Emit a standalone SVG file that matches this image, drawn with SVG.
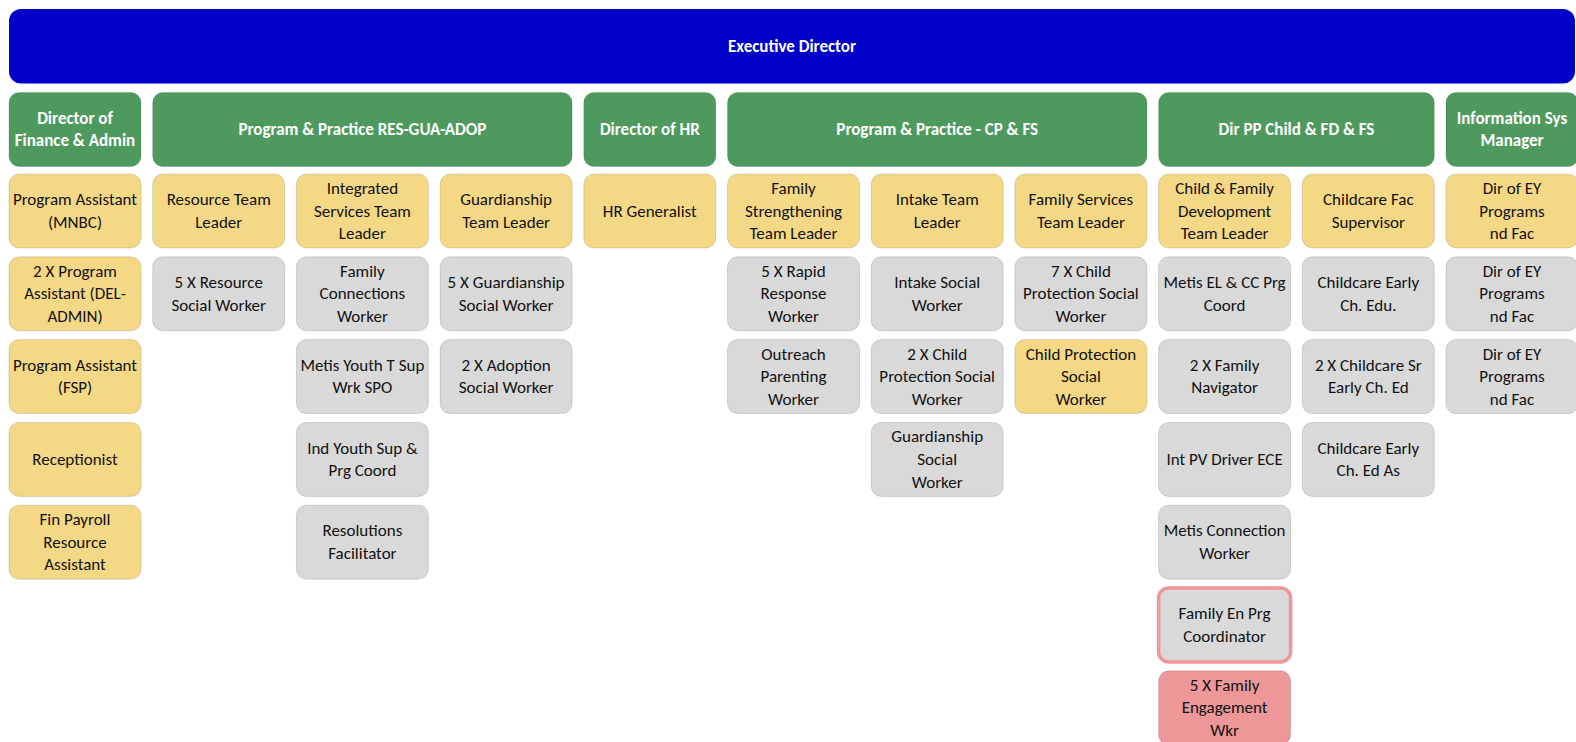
<svg xmlns="http://www.w3.org/2000/svg" width="1576" height="742" viewBox="0 0 1576 742">
<style>
.b{stroke:#000;stroke-opacity:0.13;stroke-width:1}
.exec{fill:#0000C8}
.hd{fill:#4E9A5E}
.y{fill:#F5D886}
.g{fill:#D9D9D9}
.p{fill:#EE9799}
.pb{fill:#D9D9D9;stroke:#EE9799;stroke-width:3.5}
text{font-family:Carlito,"Liberation Sans",sans-serif;font-size:17px;text-anchor:middle;fill:#111}
.w{fill:#fff;font-weight:bold}
</style>
<rect width="1576" height="742" fill="#fff"/>
<g id="exec-director"><rect class="exec" x="9" y="9" width="1566" height="74.5" rx="12"/><text class="w" x="792" y="52">Executive Director</text></g>
<g id="dir-finance"><rect class="hd b" x="9" y="92.5" width="132" height="74" rx="10"/><text class="w" x="75" y="124">Director of</text><text class="w" x="75" y="146">Finance &amp; Admin</text></g>
<g id="pp-res"><rect class="hd b" x="152.7" y="92.5" width="419.4" height="74" rx="10"/><text class="w" x="362.4" y="135">Program &amp; Practice RES-GUA-ADOP</text></g>
<g id="dir-hr"><rect class="hd b" x="583.8" y="92.5" width="132" height="74" rx="10"/><text class="w" x="649.8" y="135">Director of HR</text></g>
<g id="pp-cp"><rect class="hd b" x="727.5" y="92.5" width="419.4" height="74" rx="10"/><text class="w" x="937.2" y="135">Program &amp; Practice - CP &amp; FS</text></g>
<g id="dir-pp-child"><rect class="hd b" x="1158.6" y="92.5" width="275.7" height="74" rx="10"/><text class="w" x="1296.5" y="135">Dir PP Child &amp; FD &amp; FS</text></g>
<g id="info-sys"><rect class="hd b" x="1446" y="92.5" width="132" height="74" rx="10"/><text class="w" x="1512" y="124">Information Sys</text><text class="w" x="1512" y="146">Manager</text></g>

<g id="c1r0"><rect class="y b" x="9" y="174" width="132" height="74" rx="10"/><text x="75" y="205">Program Assistant</text><text x="75" y="228">(MNBC)</text></g>
<g id="c1r1"><rect class="y b" x="9" y="256.8" width="132" height="74" rx="10"/><text x="75" y="276.7">2 X Program</text><text x="75" y="299.3">Assistant (DEL-</text><text x="75" y="321.9">ADMIN)</text></g>
<g id="c1r2"><rect class="y b" x="9" y="339.6" width="132" height="74" rx="10"/><text x="75" y="370.8">Program Assistant</text><text x="75" y="393.4">(FSP)</text></g>
<g id="c1r3"><rect class="y b" x="9" y="422.4" width="132" height="74" rx="10"/><text x="75" y="464.9">Receptionist</text></g>
<g id="c1r4"><rect class="y b" x="9" y="505.2" width="132" height="74" rx="10"/><text x="75" y="525.1">Fin Payroll</text><text x="75" y="547.7">Resource</text><text x="75" y="570.3">Assistant</text></g>

<g id="c2r0"><rect class="y b" x="152.7" y="174" width="132" height="74" rx="10"/><text x="218.7" y="205">Resource Team</text><text x="218.7" y="228">Leader</text></g>
<g id="c2r1"><rect class="g b" x="152.7" y="256.8" width="132" height="74" rx="10"/><text x="218.7" y="288">5 X Resource</text><text x="218.7" y="310.6">Social Worker</text></g>

<g id="c3r0"><rect class="y b" x="296.4" y="174" width="132" height="74" rx="10"/><text x="362.4" y="193.9">Integrated</text><text x="362.4" y="216.5">Services Team</text><text x="362.4" y="239.1">Leader</text></g>
<g id="c3r1"><rect class="g b" x="296.4" y="256.8" width="132" height="74" rx="10"/><text x="362.4" y="276.7">Family</text><text x="362.4" y="299.3">Connections</text><text x="362.4" y="321.9">Worker</text></g>
<g id="c3r2"><rect class="g b" x="296.4" y="339.6" width="132" height="74" rx="10"/><text x="362.4" y="370.8">Metis Youth T Sup</text><text x="362.4" y="393.4">Wrk SPO</text></g>
<g id="c3r3"><rect class="g b" x="296.4" y="422.4" width="132" height="74" rx="10"/><text x="362.4" y="453.6">Ind Youth Sup &amp;</text><text x="362.4" y="476.2">Prg Coord</text></g>
<g id="c3r4"><rect class="g b" x="296.4" y="505.2" width="132" height="74" rx="10"/><text x="362.4" y="536.4">Resolutions</text><text x="362.4" y="559">Facilitator</text></g>

<g id="c4r0"><rect class="y b" x="440.1" y="174" width="132" height="74" rx="10"/><text x="506.1" y="205">Guardianship</text><text x="506.1" y="228">Team Leader</text></g>
<g id="c4r1"><rect class="g b" x="440.1" y="256.8" width="132" height="74" rx="10"/><text x="506.1" y="288">5 X Guardianship</text><text x="506.1" y="310.6">Social Worker</text></g>
<g id="c4r2"><rect class="g b" x="440.1" y="339.6" width="132" height="74" rx="10"/><text x="506.1" y="370.8">2 X Adoption</text><text x="506.1" y="393.4">Social Worker</text></g>

<g id="c5r0"><rect class="y b" x="583.8" y="174" width="132" height="74" rx="10"/><text x="649.8" y="216.5">HR Generalist</text></g>

<g id="c6r0"><rect class="y b" x="727.5" y="174" width="132" height="74" rx="10"/><text x="793.5" y="193.9">Family</text><text x="793.5" y="216.5">Strengthening</text><text x="793.5" y="239.1">Team Leader</text></g>
<g id="c6r1"><rect class="g b" x="727.5" y="256.8" width="132" height="74" rx="10"/><text x="793.5" y="276.7">5 X Rapid</text><text x="793.5" y="299.3">Response</text><text x="793.5" y="321.9">Worker</text></g>
<g id="c6r2"><rect class="g b" x="727.5" y="339.6" width="132" height="74" rx="10"/><text x="793.5" y="359.5">Outreach</text><text x="793.5" y="382.1">Parenting</text><text x="793.5" y="404.7">Worker</text></g>

<g id="c7r0"><rect class="y b" x="871.2" y="174" width="132" height="74" rx="10"/><text x="937.2" y="205">Intake Team</text><text x="937.2" y="228">Leader</text></g>
<g id="c7r1"><rect class="g b" x="871.2" y="256.8" width="132" height="74" rx="10"/><text x="937.2" y="288">Intake Social</text><text x="937.2" y="310.6">Worker</text></g>
<g id="c7r2"><rect class="g b" x="871.2" y="339.6" width="132" height="74" rx="10"/><text x="937.2" y="359.5">2 X Child</text><text x="937.2" y="382.1">Protection Social</text><text x="937.2" y="404.7">Worker</text></g>
<g id="c7r3"><rect class="g b" x="871.2" y="422.4" width="132" height="74" rx="10"/><text x="937.2" y="442.3">Guardianship</text><text x="937.2" y="464.9">Social</text><text x="937.2" y="487.5">Worker</text></g>

<g id="c8r0"><rect class="y b" x="1014.9" y="174" width="132" height="74" rx="10"/><text x="1080.9" y="205">Family Services</text><text x="1080.9" y="228">Team Leader</text></g>
<g id="c8r1"><rect class="g b" x="1014.9" y="256.8" width="132" height="74" rx="10"/><text x="1080.9" y="276.7">7 X Child</text><text x="1080.9" y="299.3">Protection Social</text><text x="1080.9" y="321.9">Worker</text></g>
<g id="c8r2"><rect class="y b" x="1014.9" y="339.6" width="132" height="74" rx="10"/><text x="1080.9" y="359.5">Child Protection</text><text x="1080.9" y="382.1">Social</text><text x="1080.9" y="404.7">Worker</text></g>

<g id="c9r0"><rect class="y b" x="1158.6" y="174" width="132" height="74" rx="10"/><text x="1224.6" y="193.9">Child &amp; Family</text><text x="1224.6" y="216.5">Development</text><text x="1224.6" y="239.1">Team Leader</text></g>
<g id="c9r1"><rect class="g b" x="1158.6" y="256.8" width="132" height="74" rx="10"/><text x="1224.6" y="288">Metis EL &amp; CC Prg</text><text x="1224.6" y="310.6">Coord</text></g>
<g id="c9r2"><rect class="g b" x="1158.6" y="339.6" width="132" height="74" rx="10"/><text x="1224.6" y="370.8">2 X Family</text><text x="1224.6" y="393.4">Navigator</text></g>
<g id="c9r3"><rect class="g b" x="1158.6" y="422.4" width="132" height="74" rx="10"/><text x="1224.6" y="464.9">Int PV Driver ECE</text></g>
<g id="c9r4"><rect class="g b" x="1158.6" y="505.2" width="132" height="74" rx="10"/><text x="1224.6" y="536.4">Metis Connection</text><text x="1224.6" y="559">Worker</text></g>
<g id="c9r5"><rect class="pb" x="1158.6" y="588" width="132" height="74" rx="10"/><text x="1224.6" y="619.2">Family En Prg</text><text x="1224.6" y="641.8">Coordinator</text></g>
<g id="c9r6"><rect class="p b" x="1158.6" y="670.8" width="132" height="74" rx="10"/><text x="1224.6" y="690.7">5 X Family</text><text x="1224.6" y="713.3">Engagement</text><text x="1224.6" y="735.9">Wkr</text></g>

<g id="c10r0"><rect class="y b" x="1302.3" y="174" width="132" height="74" rx="10"/><text x="1368.3" y="205">Childcare Fac</text><text x="1368.3" y="228">Supervisor</text></g>
<g id="c10r1"><rect class="g b" x="1302.3" y="256.8" width="132" height="74" rx="10"/><text x="1368.3" y="288">Childcare Early</text><text x="1368.3" y="310.6">Ch. Edu.</text></g>
<g id="c10r2"><rect class="g b" x="1302.3" y="339.6" width="132" height="74" rx="10"/><text x="1368.3" y="370.8">2 X Childcare Sr</text><text x="1368.3" y="393.4">Early Ch. Ed</text></g>
<g id="c10r3"><rect class="g b" x="1302.3" y="422.4" width="132" height="74" rx="10"/><text x="1368.3" y="453.6">Childcare Early</text><text x="1368.3" y="476.2">Ch. Ed As</text></g>

<g id="c11r0"><rect class="y b" x="1446" y="174" width="132" height="74" rx="10"/><text x="1512" y="193.9">Dir of EY</text><text x="1512" y="216.5">Programs</text><text x="1512" y="239.1">nd Fac</text></g>
<g id="c11r1"><rect class="g b" x="1446" y="256.8" width="132" height="74" rx="10"/><text x="1512" y="276.7">Dir of EY</text><text x="1512" y="299.3">Programs</text><text x="1512" y="321.9">nd Fac</text></g>
<g id="c11r2"><rect class="g b" x="1446" y="339.6" width="132" height="74" rx="10"/><text x="1512" y="359.5">Dir of EY</text><text x="1512" y="382.1">Programs</text><text x="1512" y="404.7">nd Fac</text></g>
<g id="connectors"></g>
</svg>
